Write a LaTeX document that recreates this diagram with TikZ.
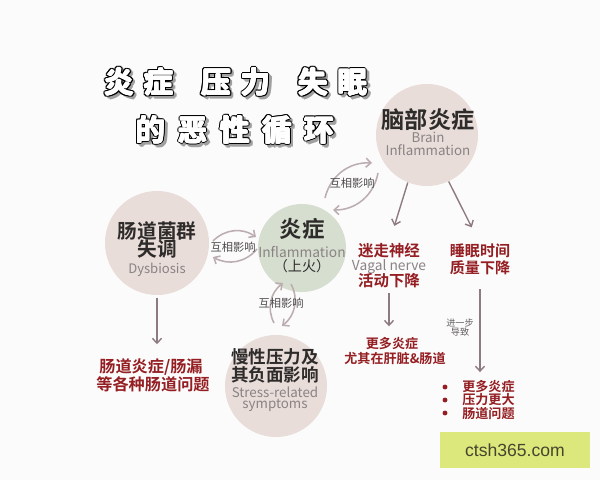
\documentclass[tikz,border=0pt]{standalone}
\usepackage{fontspec}
\setmainfont{Noto Sans CJK SC}[BoldFont={* Bold}]
\newfontfamily\sitefont{Liberation Sans}
\usetikzlibrary{arrows.meta}
\definecolor{bg}{HTML}{FCFBFB}
\definecolor{pinkc}{HTML}{E8DDD9}
\definecolor{greenc}{HTML}{D6DECF}
\definecolor{ink}{HTML}{2E2B2B}
\definecolor{engray}{HTML}{8A8383}
\definecolor{redtxt}{HTML}{941E22}
\definecolor{arr}{HTML}{8E7B7F}
\definecolor{loopc}{HTML}{BBADB0}
\definecolor{shade}{HTML}{A0A0A0}
\definecolor{wmbox}{HTML}{DDE87C}
\definecolor{wmtxt}{HTML}{45452E}
\newcommand{\fsz}[2]{\fontsize{#1}{#2}\selectfont}
\newcommand{\lineone}{炎\kern7pt症\kern20pt压\kern7pt力\kern20pt失\kern7pt眠}
\newcommand{\linetwo}{的\kern9pt恶\kern9pt性\kern9pt循\kern9pt环}

\begin{document}
\begin{tikzpicture}[x=0.025cm,y=-0.025cm,
  >={Straight Barb[length=3.5pt,width=6.5pt]},
  bubble/.style={circle,fill=pinkc,inner sep=0pt},
  heading/.style={font=\fsz{21}{25}\bfseries,inner sep=0pt},
  zh/.style={text=ink,inner sep=0pt},
  en/.style={text=engray,inner sep=0pt},
  effect/.style={text=redtxt,inner sep=0pt},
  flow/.style={->,draw=arr,line width=1pt},
  mutual/.style={->,draw=loopc,line width=1.1pt},
  tag/.style={text=ink!85,inner sep=0pt,font=\fsz{8}{9}}]
\fill[bg] (0,0) rectangle (600,480);
\useasboundingbox (0,0) rectangle (600,480);

% title: shade, black rim, thick white face
\coordinate (t1) at (236,82);
\coordinate (t2) at (235,130);
\foreach \a in {0,45,...,315} {
  \node[heading,text=shade,shift={(\a:1.3pt)},xshift=1.8pt,yshift=-1.8pt] at (t1) {\lineone};
  \node[heading,text=shade,shift={(\a:1.3pt)},xshift=1.8pt,yshift=-1.8pt] at (t2) {\linetwo};
}
\foreach \a in {0,30,...,330} {
  \node[heading,text=black,shift={(\a:1.3pt)}] at (t1) {\lineone};
  \node[heading,text=black,shift={(\a:1.3pt)}] at (t2) {\linetwo};
}
\foreach \a in {0,60,...,300} {
  \node[heading,text=white,shift={(\a:0.55pt)}] at (t1) {\lineone};
  \node[heading,text=white,shift={(\a:0.55pt)}] at (t2) {\linetwo};
}
\node[heading,text=white] (title1) at (t1) {\lineone};
\node[heading,text=white] (title2) at (t2) {\linetwo};

% bubbles
\node[bubble,minimum size=2.55cm] (brain) at (427,135) {};
\node[bubble,minimum size=2.6cm] (gut) at (157,243) {};
\node[bubble,fill=greenc,minimum size=2.2cm] (infl) at (302,248) {};
\node[bubble,minimum size=2.55cm] (stress) at (276,386) {};

\node[zh,font=\fsz{16.5}{18}\bfseries] (brain1) at (428,120) {脑部炎症};
\node[en,font=\fsz{9.5}{11}] (brain2) at (428,137) {Brain};
\node[en,font=\fsz{9.5}{11}] (brain3) at (428,150) {Inflammation};

\node[zh,font=\fsz{14}{16}\bfseries] (gut1) at (157,231) {肠道菌群};
\node[zh,font=\fsz{14}{16}\bfseries] (gut2) at (157,249) {失调};
\node[en,font=\fsz{9.3}{11}] (gut3) at (157,270) {Dysbiosis};

\node[zh,font=\fsz{16}{18}\bfseries] (infl1) at (302,229) {炎症};
\node[en,font=\fsz{9.8}{11}] (infl2) at (302,252) {Inflammation};
\node[zh,font=\fsz{10}{11}] (infl3) at (302,266) {（上火）};

\node[zh,font=\fsz{12.5}{14}\bfseries] (stress1) at (275,357) {慢性压力及};
\node[zh,font=\fsz{12.5}{14}\bfseries] (stress2) at (275,375) {其负面影响};
\node[en,font=\fsz{9.5}{11}] (stress3) at (275,392) {Stress-related};
\node[en,font=\fsz{9.5}{11}] (stress4) at (275,405) {symptoms};

% effects
\node[effect,font=\fsz{11}{13}\bfseries] (vagal1) at (389,251) {迷走神经};
\node[en,font=\fsz{9.8}{11}] (vagal2) at (389,267) {Vagal nerve};
\node[effect,font=\fsz{11}{13}\bfseries] (vagal3) at (389,281) {活动下降};

\node[effect,font=\fsz{10.7}{12}\bfseries] (sleep1) at (480,251) {睡眠时间};
\node[effect,font=\fsz{10.7}{12}\bfseries] (sleep2) at (480,268) {质量下降};

\node[effect,font=\fsz{9.3}{11}\bfseries] (more1) at (392,344) {更多炎症};
\node[effect,font=\fsz{9.3}{11}\bfseries] (more2) at (395,359) {尤其在肝脏\&肠道};

\node[effect,font=\fsz{11.5}{13}\bfseries] (leak1) at (151,367) {肠道炎症/肠漏};
\node[effect,font=\fsz{11.5}{13}\bfseries] (leak2) at (153,384) {等各种肠道问题};

\foreach \t [count=\i] in {更多炎症,压力更大,肠道问题} {
  \node[circle,fill=redtxt,inner sep=0pt,minimum size=3.5pt] (dot\i) at (445,374+13*\i) {};
  \node[effect,font=\fsz{9.3}{11}\bfseries,anchor=west] (bul\i) at (462,374+13*\i) {\t};
}

\node[tag,font=\fsz{6.5}{7},text=ink!75] (further1) at (460,323) {进一步};
\node[tag,font=\fsz{6.5}{7},text=ink!75] (further2) at (460,332) {导致};

% one-way arrows
\draw[flow,shorten >=13pt] (brain.-112) -- (vagal1.north);
\draw[flow,shorten >=13pt] (brain.-65) -- (sleep1.north);
\draw[flow,shorten <=3pt,shorten >=8pt] (vagal3.south) -- (vagal3.south |- more1.north);
\draw[flow,shorten <=10pt,shorten >=6pt] (sleep2.south) -- (sleep2.south |- bul1.north);
\draw[flow,shorten <=2pt,shorten >=10pt] (gut.south) -- (gut.south |- leak1.north);

% mutual loops
\coordinate (gi-a) at (213,241);
\coordinate (gi-b) at (256,237);
\coordinate (gi-c) at (257,249);
\coordinate (gi-d) at (213,257);
\draw[mutual] (gi-a) to[bend left=40] (gi-b);
\draw[mutual] (gi-c) to[bend left=40] (gi-d);
\node[tag] (mutual1) at (233,247) {互相影响};

\coordinate (bi-a) at (325,198);
\coordinate (bi-b) at (372,163);
\coordinate (bi-c) at (378,173);
\coordinate (bi-d) at (333,210);
\draw[mutual] (bi-a) to[bend left=40] (bi-b);
\draw[mutual] (bi-c) to[bend left=40] (bi-d);
\node[tag] (mutual2) at (352,183) {互相影响};

\coordinate (is-a) at (274,323);
\coordinate (is-b) at (283,283);
\coordinate (is-c) at (291,284);
\coordinate (is-d) at (282,326);
\draw[mutual] (is-a) to[bend left=40] (is-b);
\draw[mutual] (is-c) to[bend left=40] (is-d);
\node[tag] (mutual3) at (281,303) {互相影响};

% site mark
\node[fill=wmbox,minimum width=3.75cm,minimum height=0.875cm,inner sep=0pt,
  font=\sitefont\fsz{12.5}{14},text=wmtxt] (site) at (515,450) {ctsh365.com};
\end{tikzpicture}
\end{document}
